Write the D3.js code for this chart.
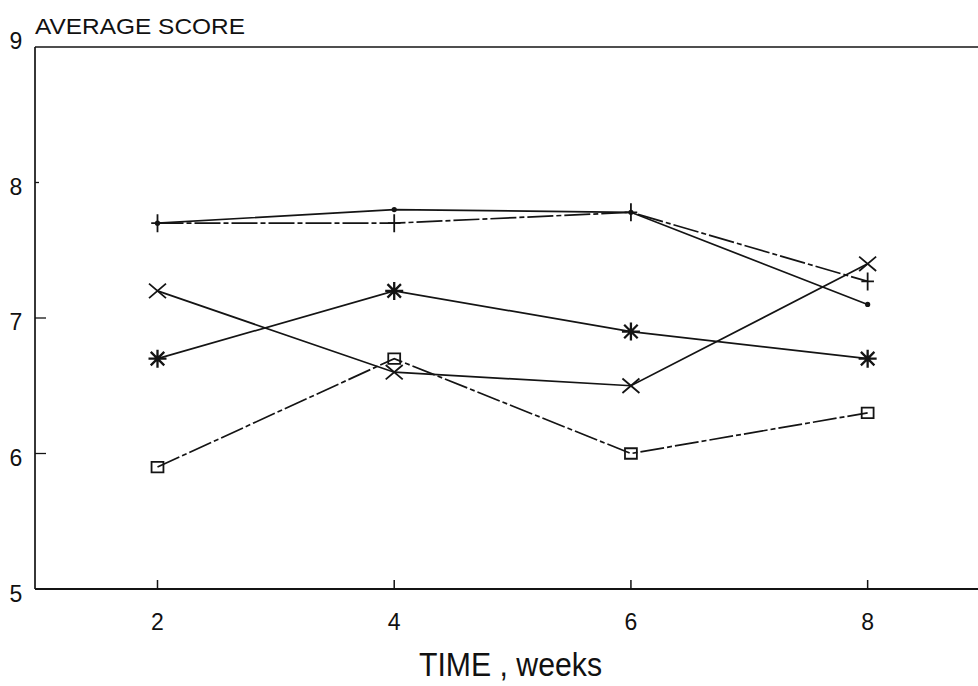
<!DOCTYPE html>
<html>
<head>
<meta charset="utf-8">
<script src="https://cdn.jsdelivr.net/npm/d3@7/dist/d3.min.js"></script>
<style>
  html, body { margin: 0; padding: 0; background: #fff; }
  svg { display: block; }
  text { fill: #111; }
</style>
</head>
<body>
<svg id="chart" width="978" height="686"></svg>
<script>
// Average score by week for five groups
const weeks = [2, 4, 6, 8];
const seriesDot      = [7.7, 7.8, 7.78, 7.1];
const seriesPlus     = [7.7, 7.7, 7.78, 7.27];
const seriesCross    = [7.2, 6.6, 6.5, 7.4];
const seriesStar     = [6.7, 7.2, 6.9, 6.7];
const seriesSquare   = [5.9, 6.7, 6.0, 6.3];
const xTicks = [2, 4, 6, 8];
const yTicks = [5, 6, 7, 8, 9];

const series = [
  { name: "dot",    values: seriesDot,    marker: "dot",    dash: null },
  { name: "plus",   values: seriesPlus,   marker: "plus",   dash: "26,3,5,3" },
  { name: "cross",  values: seriesCross,  marker: "cross",  dash: null },
  { name: "star",   values: seriesStar,   marker: "star",   dash: null },
  { name: "square", values: seriesSquare, marker: "square", dash: "24,3,5,3" }
];

const svg = d3.select("#chart");
const ink = "#141414";
const font = "'Liberation Sans', Arial, sans-serif";

const x = d3.scaleLinear().domain([0.965, 9]).range([35, 986]);
const y = d3.scaleLinear().domain([5, 9]).range([589, 47]);

// frame: top border and left axis
svg.append("line")
  .attr("x1", x(0.965)).attr("x2", 978)
  .attr("y1", y(9)).attr("y2", y(9))
  .attr("stroke", ink).attr("stroke-width", 1.7);

svg.append("line")
  .attr("x1", x(0.965)).attr("x2", x(0.965))
  .attr("y1", y(9)).attr("y2", y(5))
  .attr("stroke", ink).attr("stroke-width", 1.7);

// bottom axis
svg.append("line")
  .attr("x1", x(0.965)).attr("x2", 978)
  .attr("y1", y(5)).attr("y2", y(5))
  .attr("stroke", ink).attr("stroke-width", 1.9);

// x ticks point upward into the plot
svg.selectAll(".xtick").data(xTicks).join("line")
  .attr("x1", d => x(d)).attr("x2", d => x(d))
  .attr("y1", y(5)).attr("y2", y(5) - 9)
  .attr("stroke", ink).attr("stroke-width", 1.5);

svg.selectAll(".xlabel").data(xTicks).join("text")
  .attr("x", d => x(d)).attr("y", y(5) + 41)
  .attr("text-anchor", "middle")
  .attr("font-family", font)
  .attr("font-size", 23)
  .text(d => d);

// y ticks point inward
svg.selectAll(".ytick").data(yTicks.filter(d => d > 5 && d < 9)).join("line")
  .attr("x1", x(0.965)).attr("x2", d => x(0.965) + (d === 8 ? 4 : 11))
  .attr("y1", d => y(d)).attr("y2", d => y(d))
  .attr("stroke", ink).attr("stroke-width", 1.3);

svg.selectAll(".ylabel").data(yTicks).join("text")
  .attr("x", 16)
  .attr("y", d => y(d) + (d === 9 ? 2 : d === 5 ? 13 : 12))
  .attr("text-anchor", "middle")
  .attr("font-family", font)
  .attr("font-size", 23)
  .text(d => d);

// axis titles
svg.append("text")
  .attr("x", 35).attr("y", 34)
  .attr("font-family", font)
  .attr("font-size", 22)
  .attr("textLength", 210)
  .attr("lengthAdjust", "spacingAndGlyphs")
  .text("AVERAGE SCORE");

svg.append("text")
  .attr("x", 419).attr("y", 676)
  .attr("font-family", font)
  .attr("font-size", 34)
  .attr("textLength", 183)
  .attr("lengthAdjust", "spacingAndGlyphs")
  .text("TIME , weeks");

// series lines
const line = d3.line().x((d, i) => x(weeks[i])).y(d => y(d));

svg.selectAll(".series").data(series).join("path")
  .attr("d", s => line(s.values))
  .attr("fill", "none")
  .attr("stroke", ink)
  .attr("stroke-width", 1.7)
  .attr("stroke-dasharray", s => s.dash);

// markers
function markerPath(type, r) {
  const p = d3.path();
  if (type === "plus") {
    p.moveTo(-r * 0.7, 0); p.lineTo(r * 0.7, 0);
    p.moveTo(0, -r); p.lineTo(0, r);
  }
  if (type === "star") {
    p.moveTo(-r, 0); p.lineTo(r, 0);
    p.moveTo(0, -r); p.lineTo(0, r);
    const k = r * 0.75;
    p.moveTo(-k, -k); p.lineTo(k, k);
    p.moveTo(-k, k); p.lineTo(k, -k);
  }
  if (type === "cross") {
    p.moveTo(-r, -r * 0.85); p.lineTo(r, r * 0.85);
    p.moveTo(-r, r * 0.85); p.lineTo(r, -r * 0.85);
  }
  if (type === "square") {
    p.rect(-r * 0.85, -r * 0.75, r * 1.7, r * 1.5);
  }
  return p.toString();
}

series.forEach(s => {
  const g = svg.append("g");
  s.values.forEach((v, i) => {
    const cx = x(weeks[i]), cy = y(v);
    if (s.marker === "dot") {
      g.append("circle").attr("cx", cx).attr("cy", cy).attr("r", 2.6).attr("fill", ink);
    } else {
      g.append("path")
        .attr("transform", `translate(${cx},${cy})`)
        .attr("d", markerPath(s.marker, s.marker === "cross" ? 8.5 : s.marker === "square" ? 7 : 9))
        .attr("fill", "none")
        .attr("stroke", ink)
        .attr("stroke-width", s.marker === "star" ? 2.3 : 1.8);
    }
  });
});
</script>
</body>
</html>
